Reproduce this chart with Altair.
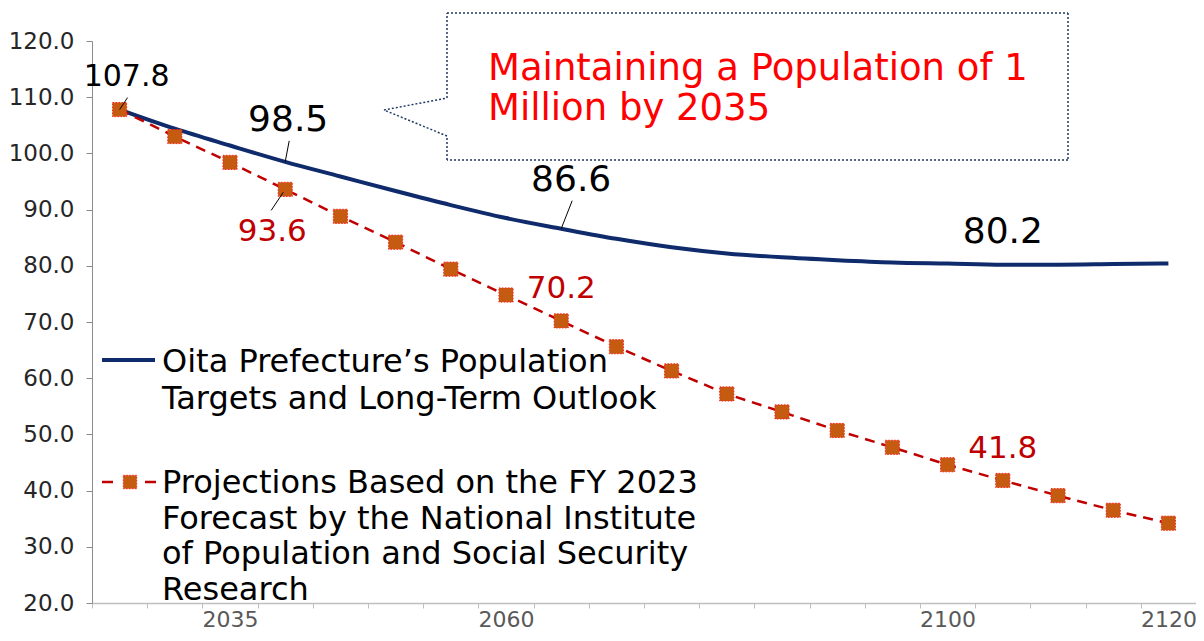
import altair as alt
import pandas as pd

# ---------------- data ----------------
years = list(range(2025, 2121, 5))
oita_target = [107.8, 104.4, 101.4, 98.5, 95.9, 93.3, 90.8, 88.5, 86.6, 84.8,
               83.3, 82.2, 81.5, 81.0, 80.6, 80.4, 80.2, 80.2, 80.3, 80.4]
ipss_projection = [107.8, 103.0, 98.4, 93.6, 88.8, 84.2, 79.4, 74.8, 70.2, 65.6,
                   61.3, 57.2, 54.0, 50.7, 47.7, 44.6, 41.8, 39.1, 36.5, 34.2]
x_label_years = [2035, 2060, 2100, 2120]
y_ticks = [20.0, 30.0, 40.0, 50.0, 60.0, 70.0, 80.0, 90.0, 100.0, 110.0, 120.0]
blue_label_years = [2025, 2040, 2065, 2105]
red_label_years = [2040, 2065, 2105]
legend_blue = ["Oita Prefecture\u2019s Population", "Targets and Long-Term Outlook"]
legend_red = ["Projections Based on the FY 2023", "Forecast by the National Institute",
              "of Population and Social Security", "Research"]
callout_lines = ["Maintaining a Population of 1", "Million by 2035"]

# ---------------- styles ----------------
W, H = 1104, 562
FONT = "DejaVu Sans"
NAVY = "#0f2b6b"
RED = "#c00000"
ORANGE = "#c55a11"
BOX = "#1f3864"

df_b = pd.DataFrame({"year": years, "value": oita_target})
df_r = pd.DataFrame({"year": years, "value": ipss_projection})

step = 5
half = step / 2
edges = [years[0] - half + step * i for i in range(len(years) + 1)]
shown = [y - half for y in x_label_years]
label_expr = f"indexof({shown}, datum.value) >= 0 ? format(datum.value + {half}, 'd') : ''"

x_enc = alt.X(
    "year:Q",
    scale=alt.Scale(domain=[edges[0], edges[-1]], nice=False, zero=False),
    axis=alt.Axis(values=edges, labelExpr=label_expr, labelOffset=W / len(years) / 2,
                  title=None, grid=False, tickSize=5, labelPadding=1, labelFontSize=22,
                  labelColor="#595959", labelFont=FONT, domainColor="#bfbfbf",
                  tickColor="#bfbfbf", labelFlush=False, labelOverlap=False, domainWidth=1.5),
)
y_enc = alt.Y(
    "value:Q",
    scale=alt.Scale(domain=[20, 120], nice=False, zero=False),
    axis=alt.Axis(values=y_ticks, format=".1f", title=None, grid=False, tickSize=6,
                  labelPadding=12, labelFontSize=23, labelColor="#262626", labelFont=FONT,
                  domainColor="#8c8c8c", tickColor="#8c8c8c"),
)

blue_line = alt.Chart(df_b).mark_line(color=NAVY, strokeWidth=4, interpolate="monotone").encode(x=x_enc, y=y_enc)
red_line = alt.Chart(df_r).mark_line(color=RED, strokeWidth=2.5, strokeDash=[10, 7]).encode(x=x_enc, y=y_enc)
red_pts = alt.Chart(df_r).mark_square(size=200, fill=ORANGE, stroke="#ff2020", strokeWidth=1,
                                      strokeDash=[1.5, 1.5], opacity=1).encode(x=x_enc, y=y_enc)

layers = [blue_line, red_line, red_pts]

# data labels (offsets are styling)
blue_label_style = {2025: (7, -33, 30), 2040: (3, -42, 36), 2065: (10, -49, 36), 2105: (0, -33, 36)}
red_label_style = {2040: (-13, 43, 31), 2065: (0, -32, 31), 2105: (0, -31, 31)}
for df, yrs, style, col in [(df_b, blue_label_years, blue_label_style, "#000000"),
                            (df_r, red_label_years, red_label_style, RED)]:
    for yr in yrs:
        dx, dy, fs = style[yr]
        layers.append(
            alt.Chart(df).transform_filter(alt.datum.year == yr)
            .mark_text(dx=dx, dy=dy, fontSize=fs, font=FONT, color=col, align="center", baseline="middle")
            .encode(x=x_enc, y=y_enc, text=alt.Text("value:Q", format=".1f"))
        )

# leader lines
leaders = [(df_b, 2025, 0, 0, 8, -12), (df_b, 2040, 0, 0, 4, -21),
           (df_r, 2040, -2, 3, -14, 21), (df_b, 2065, 0, 0, 11, -28)]
for df, yr, x0, y0, x1, y1 in leaders:
    layers.append(
        alt.Chart(df).transform_filter(alt.datum.year == yr)
        .mark_rule(color="#000000", strokeWidth=1, xOffset=x0, yOffset=y0, x2Offset=x1, y2Offset=y1)
        .encode(x=x_enc, y=y_enc, x2="year", y2="value")
    )

one = pd.DataFrame({"a": [0]})


def seg(x1, y1, x2, y2, **kw):
    return alt.Chart(one).mark_rule(**kw).encode(
        x=alt.value(x1), y=alt.value(y1), x2=alt.value(x2), y2=alt.value(y2))


# legend
layers.append(seg(10, 319, 63, 319, color=NAVY, strokeWidth=4))
layers.append(alt.Chart(one).mark_text(text=legend_blue, fontSize=32, font=FONT, color="#000000",
                                       align="left", baseline="alphabetic", lineHeight=37)
              .encode(x=alt.value(70), y=alt.value(331)))
layers.append(seg(10, 441, 64, 441, color=RED, strokeWidth=2.5, strokeDash=[11, 32]))
layers.append(alt.Chart(one).mark_square(size=180, fill=ORANGE, stroke="#ff2020", strokeWidth=1,
                                         strokeDash=[1.5, 1.5], opacity=1)
              .encode(x=alt.value(38), y=alt.value(441)))
layers.append(alt.Chart(one).mark_text(text=legend_red, fontSize=32, font=FONT, color="#000000",
                                       align="left", baseline="alphabetic", lineHeight=35.5)
              .encode(x=alt.value(70), y=alt.value(452)))

# callout
L, R, T, B = 355, 976, -28, 119
box = dict(color=BOX, strokeWidth=1.5, strokeDash=[2, 2])
for s in [(L, T, R, T), (R, T, R, B), (R, B, L, B), (L, B, L, 95), (L, 95, 292, 69),
          (292, 69, L, 57), (L, 57, L, T)]:
    layers.append(seg(*s, **box))
layers.append(alt.Chart(one).mark_text(text=callout_lines, fontSize=37, font=FONT, color="#ff0000",
                                       align="left", baseline="alphabetic", lineHeight=40)
              .encode(x=alt.value(396), y=alt.value(39)))

chart = alt.layer(*layers).properties(
    width=W, height=H,
    autosize=alt.AutoSizeParams(type="none"),
    padding={"left": 84, "top": 33, "right": 0, "bottom": 29},
).configure_view(stroke=None)

chart.save("out.html", embed_options={"renderer": "svg", "actions": False})
